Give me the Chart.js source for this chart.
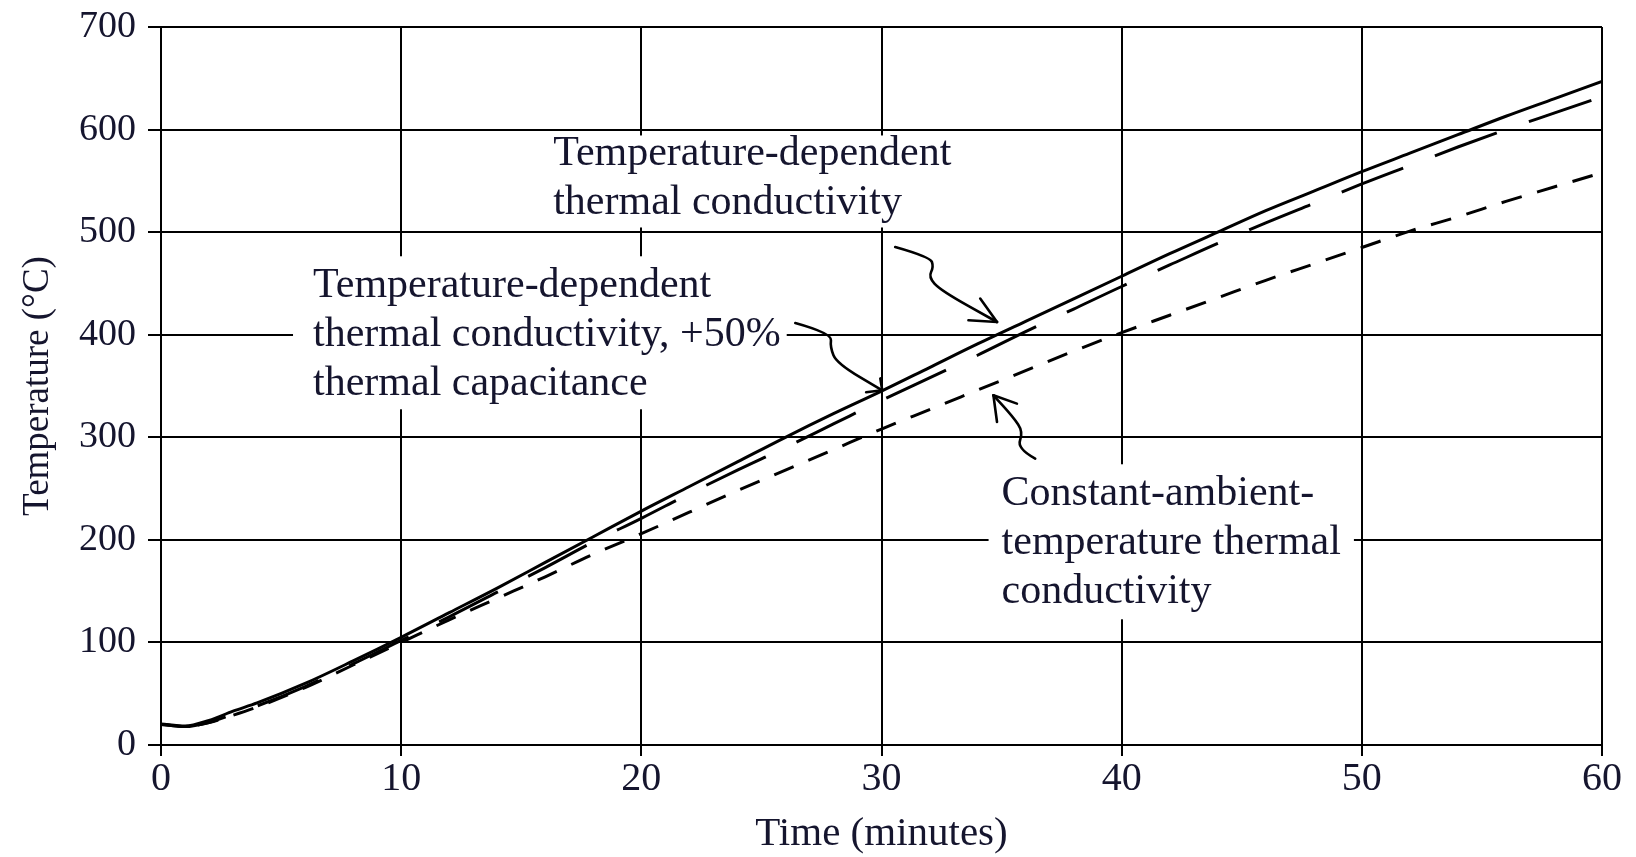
<!DOCTYPE html>
<html>
<head>
<meta charset="utf-8">
<script src="https://cdn.jsdelivr.net/npm/chart.js@4.4.1/dist/chart.umd.min.js"></script>
<style>
  html, body { margin: 0; padding: 0; background: #fff; }
  #wrap { width: 1636px; height: 857px; }
</style>
</head>
<body>
<div id="wrap"><canvas id="tempChart" width="1636" height="857"></canvas></div>
<script>
// Fire exposure: steel temperature over time (minutes)
const times = [0, 1, 2, 3, 4, 6, 8, 10, 12, 14, 16, 18, 20, 22, 24, 26, 28, 30,
               32, 34, 36, 38, 40, 42, 44, 46, 48, 50, 52, 54, 56, 58, 60];

// temperature-dependent thermal conductivity
const tempDependent = [20.5, 18.5, 24, 33, 41, 60, 82, 105, 129, 153, 178, 203, 228, 252, 276, 300, 323, 345,
                       368, 391, 413, 435, 457, 479, 500, 521, 540, 559, 577, 595, 613, 630, 647];

// temperature-dependent conductivity with +50% thermal capacitance
const tempDependentCap = [20, 18, 22, 30, 38, 57, 79, 102, 125, 149, 173, 198, 221, 245, 268, 290, 313, 336,
                          358, 380, 403, 425, 447, 468, 489, 509, 528, 547, 565, 583, 600, 616, 632];

// conductivity taken at ambient temperature
const constantAmbient = [20, 18, 22, 29, 37, 56, 78, 100, 122, 143, 164, 186, 206, 227, 248, 268, 288, 308,
                         327, 346, 365, 384, 402, 419, 436, 453, 469, 485, 501, 515, 530, 544, 558];

const xMin = 0, xMax = 60, xStep = 10;
const yMin = 0, yMax = 700, yStep = 100;

// callout text, anchored at the first baseline (minutes, degC)
const calloutLines = [
  ["Temperature-dependent", "thermal conductivity"],
  ["Temperature-dependent", "thermal conductivity, +50%", "thermal capacitance"],
  ["Constant-ambient-", "temperature thermal", "conductivity"]
];
const calloutAnchors = [[16.33, 565], [6.33, 436.5], [35.0, 233.7]];

// leader arrows: path from tail to tip, then the two barb ends
const arrowPaths = [
  [[30.57, 485.5], [32.03, 475.8], [32.17, 466.0], [31.96, 456.3], [32.45, 443.3], [34.81, 412.4]],
  [[26.41, 411.4], [27.93, 401.4], [27.86, 388.0], [28.14, 372.1], [30.03, 345.8]],
  [[36.40, 279.2], [35.64, 289.0], [35.90, 305.2], [35.48, 319.8], [34.66, 340.9]]
];
const arrowBarbs = [
  [[34.11, 435.2], [33.62, 414.1]],
  [[29.95, 357.4], [29.36, 343.9]],
  [[35.64, 332.8], [34.81, 314.9]]
];

const ink = '#000';
const textInk = '#15152e';
const serif = '"Liberation Serif", "Times New Roman", serif';

const toPoints = values => times.map((t, i) => ({ x: t, y: values[i] }));

// white boxes behind callouts: [left, top, right, bottom] padding in px
const calloutPads = [[10, 30, 10, 13], [20, 41, 6, 14], [13, 41, 13, 16]];
const calloutFont = '42px ' + serif;
const calloutGap = 49;

function calloutBox(ctx, x, y, i) {
  const left = x.getPixelForValue(calloutAnchors[i][0]);
  const base = y.getPixelForValue(calloutAnchors[i][1]);
  ctx.font = calloutFont;
  const width = Math.max(...calloutLines[i].map(l => ctx.measureText(l).width));
  const last = base + (calloutLines[i].length - 1) * calloutGap;
  const p = calloutPads[i];
  return { left, base, x0: left - p[0], y0: base - p[1], x1: left + width + p[2], y1: last + p[3] };
}

function smoothPath(ctx, pts) {
  ctx.beginPath();
  ctx.moveTo(pts[0][0], pts[0][1]);
  for (let i = 1; i < pts.length - 1; i++) {
    const mx = (pts[i][0] + pts[i + 1][0]) / 2;
    const my = (pts[i][1] + pts[i + 1][1]) / 2;
    ctx.quadraticCurveTo(pts[i][0], pts[i][1], mx, my);
  }
  const end = pts[pts.length - 1];
  ctx.lineTo(end[0], end[1]);
  ctx.stroke();
}

const calloutPlugin = {
  id: 'callouts',
  beforeDatasetsDraw(chart) {
    const { ctx, scales: { x, y } } = chart;
    ctx.save();
    ctx.fillStyle = '#fff';
    calloutLines.forEach((_, i) => {
      const b = calloutBox(ctx, x, y, i);
      ctx.fillRect(b.x0, b.y0, b.x1 - b.x0, b.y1 - b.y0);
    });
    ctx.restore();
  },
  afterDatasetsDraw(chart) {
    const { ctx, scales: { x, y } } = chart;
    ctx.save();
    ctx.fillStyle = textInk;
    ctx.textBaseline = 'alphabetic';
    ctx.textAlign = 'left';
    calloutLines.forEach((lines, i) => {
      const b = calloutBox(ctx, x, y, i);
      lines.forEach((line, k) => ctx.fillText(line, b.left, b.base + k * calloutGap));
    });

    ctx.strokeStyle = ink;
    ctx.lineWidth = 2.6;
    ctx.lineCap = 'round';
    ctx.lineJoin = 'round';
    arrowPaths.forEach((path, i) => {
      const pts = path.map(p => [x.getPixelForValue(p[0]), y.getPixelForValue(p[1])]);
      smoothPath(ctx, pts);
      const tip = pts[pts.length - 1];
      arrowBarbs[i].forEach(bp => {
        ctx.beginPath();
        ctx.moveTo(x.getPixelForValue(bp[0]), y.getPixelForValue(bp[1]));
        ctx.lineTo(tip[0], tip[1]);
        ctx.stroke();
      });
    });
    ctx.restore();
  }
};

const lineStyle = {
  borderColor: ink,
  borderWidth: 3,
  pointRadius: 0,
  fill: false,
  cubicInterpolationMode: 'monotone',
  borderCapStyle: 'butt'
};

new Chart(document.getElementById('tempChart'), {
  type: 'line',
  data: {
    datasets: [
      { ...lineStyle, label: 'Temperature-dependent thermal conductivity', data: toPoints(tempDependent) },
      { ...lineStyle, label: 'Temperature-dependent thermal conductivity, +50% thermal capacitance',
        data: toPoints(tempDependentCap), borderDash: [66, 34] },
      { ...lineStyle, label: 'Constant-ambient-temperature thermal conductivity',
        data: toPoints(constantAmbient), borderDash: [21, 16] }
    ]
  },
  options: {
    responsive: false,
    animation: false,
    devicePixelRatio: 1,
    layout: { padding: { left: 0, right: 34, top: 27, bottom: 0 } },
    plugins: {
      legend: { display: false },
      tooltip: { enabled: false }
    },
    scales: {
      x: {
        type: 'linear',
        min: xMin,
        max: xMax,
        afterFit: scale => {
          scale.height = 112;
          scale.paddingLeft = 0;
          scale.paddingRight = 0;
        },
        ticks: { stepSize: xStep, color: textInk, padding: 3, font: { family: serif, size: 40, lineHeight: 1 } },
        grid: { color: ink, lineWidth: 2, tickLength: 11 },
        border: { display: true, color: ink, width: 2 },
        title: {
          display: true,
          text: 'Time (minutes)',
          color: textInk,
          padding: { top: 0, bottom: 0 },
          font: { family: serif, size: 41, lineHeight: 1.1 }
        }
      },
      y: {
        min: yMin,
        max: yMax,
        afterFit: scale => {
          scale.width = 161;
          scale.paddingTop = 0;
          scale.paddingBottom = 0;
        },
        ticks: { stepSize: yStep, color: textInk, padding: 12, font: { family: serif, size: 38 } },
        grid: { color: ink, lineWidth: 2, tickLength: 13 },
        border: { display: true, color: ink, width: 2 },
        title: {
          display: true,
          text: 'Temperature (°C)',
          color: textInk,
          padding: { top: 16, bottom: 0 },
          font: { family: serif, size: 37, lineHeight: 1.2 }
        }
      }
    }
  },
  plugins: [calloutPlugin]
});
</script>
</body>
</html>
